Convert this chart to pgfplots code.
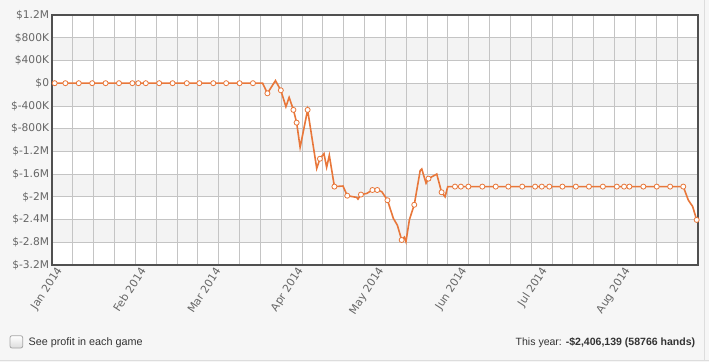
\documentclass[border=0pt]{standalone}
\usepackage{pgfplots}
\pgfplotsset{compat=1.18}
\usepackage{fontspec}
\setmainfont{DejaVu Sans}
\newfontfamily\arialf{Liberation Sans}
\definecolor{bgc}{HTML}{F6F6F6}
\definecolor{bandc}{HTML}{F3F3F3}
\definecolor{gridc}{HTML}{C4C4C4}
\definecolor{axisc}{HTML}{505050}
\definecolor{linec}{HTML}{E8773A}
\definecolor{labc}{HTML}{666666}
\definecolor{txtc}{HTML}{333333}
\definecolor{panelc}{HTML}{DDDDDD}
\definecolor{boxc}{HTML}{A5A5A5}
\definecolor{boxfill}{HTML}{DCDCDC}
\begin{document}
\begin{tikzpicture}[x=0.75pt,y=0.75pt]
\useasboundingbox (0,0) rectangle (709,362);
\fill[bgc] (0,0) rectangle (709,362);
\draw[panelc, line width=0.75pt] (0,2) -- (709,2);
\draw[panelc, line width=0.75pt] (704,2) -- (704,362);
\fill[white] (52,97) rectangle (697.7,347);
\foreach \a/\b in {324.27/301.55, 278.82/256.09, 233.36/210.64, 187.91/165.18, 142.45/119.73}
  \fill[bandc] (52,\a) rectangle (697.7,\b);
\begin{axis}[
  at={(39pt,72.75pt)}, anchor=south west,
  scale only axis, width=484.3pt, height=187.5pt,
  xmin=0, xmax=241, ymin=-3.2, ymax=1.2,
  clip=false,
  xtick={0,31,59,90,120,151,181,212},
  xticklabels={Jan 2014,Feb 2014,Mar 2014,Apr 2014,May 2014,Jun 2014,Jul 2014,Aug 2014},
  minor xtick={0,7.77419,...,241},
  xmajorgrids=false, xminorgrids=true, ymajorgrids=true,
  ytick={-3.2,-2.8,-2.4,-2,-1.6,-1.2,-0.8,-0.4,0,0.4,0.8,1.2},
  yticklabels={\$-3.2M,\$-2.8M,\$-2.4M,\$-2M,\$-1.6M,\$-1.2M,\$-800K,\$-400K,\$0,\$400K,\$800K,\$1.2M},
  major tick length=0pt, minor tick length=0pt,
  axis line style={draw=axisc, line width=1.7pt},
  major grid style={draw=gridc, line width=0.6pt},
  minor grid style={draw=gridc, line width=0.6pt},
  yticklabel style={font=\fontsize{8}{9}\selectfont, text=labc, anchor=east, inner sep=0pt, xshift=-2pt},
  xticklabel style={font=\fontsize{8.1}{9}\selectfont, text=labc, rotate=57, anchor=east, inner sep=0pt, yshift=-6.5pt, xshift=1pt},
]
\addplot[linec, line width=1.2pt, no marks] coordinates {
(0,0) (1,0) (5,0) (10,0) (15,0) (20,0) (25,0) (30,0) (32.2,0) (35,0) (40,0) (45,0) (50.3,0) (55,0) (60.2,0) (65,0) (70,0) (75,0) (78.6,0)
(80.4,-0.178) (83.4,0.045) (85.4,-0.125) (87.3,-0.414) (88.5,-0.25) (90.1,-0.47) (91.3,-0.695) (92.6,-1.129) (95.4,-0.47)
(98.8,-1.50) (100.0,-1.33) (101.5,-1.24) (102.5,-1.48) (103.5,-1.27) (105.4,-1.82) (108.6,-1.81) (110.2,-1.98)
(113.7,-2.01) (114.2,-2.04) (115.3,-1.96) (117.5,-1.94) (119.6,-1.88) (121.4,-1.88) (123.1,-1.91) (125.2,-2.06)
(127.4,-2.38) (128.9,-2.50) (130.5,-2.76) (131.5,-2.71) (132.1,-2.79) (133.4,-2.40) (135.2,-2.14) (137.4,-1.54)
(138.0,-1.51) (139.6,-1.76) (140.5,-1.68) (143.6,-1.60) (145.4,-1.92) (146.7,-2.00) (147.7,-1.82)
(150.4,-1.82) (152.6,-1.82) (155.4,-1.82) (160.6,-1.82) (165.6,-1.82) (170.3,-1.82) (175.5,-1.82) (180.3,-1.82)
(182.8,-1.82) (185.6,-1.82) (190.5,-1.82) (195.5,-1.82) (200.4,-1.82) (205.6,-1.82) (210.8,-1.82) (213.5,-1.82)
(215.5,-1.82) (220.7,-1.82) (225.7,-1.82) (230.7,-1.82) (235.6,-1.82)
(237.5,-2.06) (239.1,-2.17) (240.6,-2.406)
};
\addplot[only marks, mark=*, mark size=1.9pt, mark options={draw=linec, fill=white, line width=0.6pt}] coordinates {
(1,0) (5,0) (10,0) (15,0) (20,0) (25,0) (30,0) (32.2,0) (35,0) (40,0) (45,0) (50.3,0) (55,0) (60.2,0) (65,0) (70,0) (75,0)
(80.4,-0.178) (85.4,-0.125) (90.1,-0.47) (91.3,-0.695) (95.4,-0.47) (100.0,-1.33) (105.4,-1.82) (110.2,-1.98)
(115.3,-1.96) (119.6,-1.88) (121.4,-1.88) (125.2,-2.06) (130.5,-2.76) (135.2,-2.14) (140.5,-1.68) (145.4,-1.92)
(150.4,-1.82) (152.6,-1.82) (155.4,-1.82) (160.6,-1.82) (165.6,-1.82) (170.3,-1.82) (175.5,-1.82) (180.3,-1.82)
(182.8,-1.82) (185.6,-1.82) (190.5,-1.82) (195.5,-1.82) (200.4,-1.82) (205.6,-1.82) (210.8,-1.82) (213.5,-1.82)
(215.5,-1.82) (220.7,-1.82) (225.7,-1.82) (230.7,-1.82) (235.6,-1.82) (240.6,-2.406)
};
\end{axis}
\shade[rounded corners=1.5pt, top color=white, bottom color=boxfill, draw=boxc, line width=0.6pt] (10,14) rectangle (22.7,26.3);
\node[anchor=base west, inner sep=0pt, text=txtc, font=\arialf\fontsize{8.1}{10}\selectfont] at (28.3,16.5) {See profit in each game};
\node[anchor=base east, inner sep=0pt, text=txtc, font=\arialf\fontsize{7.9}{10}\selectfont] at (695.5,16.5) {This year: \textbf{-\$2,406,139 (58766 hands)}};
\end{tikzpicture}
\end{document}
